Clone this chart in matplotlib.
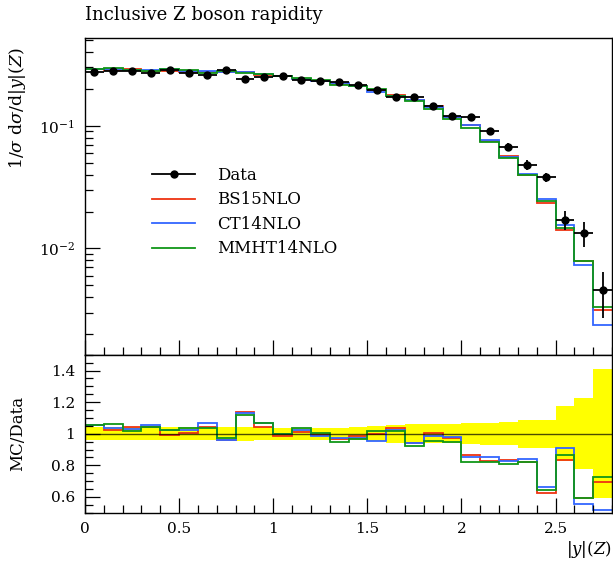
import numpy as np
import matplotlib
matplotlib.use("Agg")
from matplotlib import pyplot as plt
from matplotlib.lines import Line2D
from matplotlib.ticker import MultipleLocator, LogLocator, NullFormatter, FixedLocator

plt.rcParams['font.family'] = ['DejaVu Serif']
plt.rcParams['mathtext.fontset'] = 'dejavuserif'

# bin edges in |y|(Z)
edges = np.round(np.arange(0, 2.81, 0.1), 2)
centers = 0.5 * (edges[:-1] + edges[1:])

# measured 1/sigma dsigma/d|y|
data = [0.276, 0.280, 0.280, 0.269, 0.283, 0.272, 0.262, 0.286, 0.241, 0.248,
        0.257, 0.2375, 0.234, 0.2286, 0.216, 0.197, 0.1714, 0.1714, 0.1438, 0.1207,
        0.1178, 0.0905, 0.0678, 0.0481, 0.0379, 0.0171, 0.0133, 0.00458]
# relative uncertainty of the data (yellow band)
data_relerr = [0.043, 0.043, 0.042, 0.042, 0.04, 0.04, 0.041, 0.041, 0.044, 0.04,
               0.039, 0.038, 0.038, 0.037, 0.042, 0.048, 0.057, 0.059, 0.062, 0.062,
               0.068, 0.070, 0.073, 0.088, 0.088, 0.173, 0.226, 0.41]

# MC / Data ratios
ratio_bs15 = [1.056, 1.022, 1.043, 1.043, 0.99, 1.007, 1.045, 0.962, 1.138, 1.045,
              0.986, 1.011, 0.99, 0.965, 0.986, 1.0, 1.037, 0.942, 1.005, 0.975,
              0.863, 0.829, 0.833, 0.822, 0.622, 0.833, 0.595, 0.692]
ratio_ct14 = [1.056, 1.036, 1.027, 1.056, 1.024, 1.026, 1.069, 0.96, 1.13, 1.068,
              1.0, 1.022, 0.983, 0.974, 0.975, 0.955, 1.026, 0.942, 0.983, 0.98,
              0.854, 0.854, 0.828, 0.843, 0.664, 0.907, 0.553, 0.517]
ratio_mmht14 = [1.058, 1.061, 1.017, 1.043, 1.024, 1.039, 1.034, 0.975, 1.12, 1.07,
                1.0, 1.033, 1.004, 0.948, 0.969, 1.016, 1.018, 0.923, 0.955, 0.948,
                0.822, 0.822, 0.808, 0.822, 0.643, 0.863, 0.595, 0.728]

mc_names = ['BS15NLO', 'CT14NLO', 'MMHT14NLO']
mc_colors = ['#EE3311', '#3366FF', '#109618']
mc_ratios = [ratio_bs15, ratio_ct14, ratio_mmht14]

data = np.array(data)
data_err = data * np.array(data_relerr)

fig = plt.figure(figsize=(6.13, 5.62), dpi=100)
ax = fig.add_axes([85/613, 1-354.7/562, 527/613, (354.7-38)/562])
rax = fig.add_axes([85/613, 1-512.7/562, 527/613, (512.7-354.7)/562], sharex=ax)

# main panel
for name, col, r in zip(mc_names, mc_colors, mc_ratios):
    ax.stairs(np.array(r) * data, edges, baseline=None, color=col, lw=1.3, label=name)
ax.errorbar(centers, data, xerr=0.05, yerr=data_err, fmt='o', color='black',
            ms=5, lw=1.3, capsize=0, zorder=5)

ax.set_yscale('log')
ax.set_ylim(0.00136, 0.52)
ax.set_xlim(0, 2.8)

handles = [Line2D([], [], color='black', marker='o', ms=5, lw=1.3)]
handles += [Line2D([], [], color=c, lw=1.3) for c in mc_colors]
leg = ax.legend(handles, ['Data'] + mc_names, loc='upper left',
                bbox_to_anchor=(0.127, 0.593), frameon=False, fontsize=12,
                handlelength=2.6, handletextpad=1.3, labelspacing=0.45,
                borderpad=0, borderaxespad=0)

# ratio panel
rax.stairs(1 + np.array(data_relerr), edges, baseline=1 - np.array(data_relerr),
           fill=True, color='#FFFF00', lw=0)
rax.axhline(1, color='black', lw=1, alpha=0.7)
for name, col, r in zip(mc_names, mc_colors, mc_ratios):
    rax.stairs(r, edges, baseline=None, color=col, lw=1.3)
rax.set_ylim(0.5, 1.5)
rax.set_xlim(0, 2.8)

for a in (ax, rax):
    a.tick_params(which='both', direction='in', top=False, right=False, labelsize=11)
    a.tick_params(which='major', length=11, width=0.9, pad=7)
    a.tick_params(which='minor', length=5.5, width=0.9)
    a.xaxis.set_major_locator(MultipleLocator(0.5))
    a.xaxis.set_minor_locator(MultipleLocator(0.1))
    for s in a.spines.values():
        s.set_linewidth(1.0)

ax.tick_params(labelbottom=False)
ax.yaxis.set_major_locator(LogLocator(base=10, numticks=10))
ax.yaxis.set_minor_locator(LogLocator(base=10, subs=np.arange(2, 10), numticks=20))
ax.yaxis.set_minor_formatter(NullFormatter())

rax.yaxis.set_major_locator(FixedLocator([0.6, 0.8, 1.0, 1.2, 1.4]))
rax.yaxis.set_minor_locator(MultipleLocator(0.05))
rax.set_yticklabels(['0.6', '0.8', '1', '1.2', '1.4'])
rax.set_xticks([0, 0.5, 1, 1.5, 2, 2.5])
rax.set_xticklabels(['0', '0.5', '1', '1.5', '2', '2.5'])

fig.text(85/613, 1-15/562, 'Inclusive Z boson rapidity', ha='left', va='center', fontsize=13)
fig.text(18/613, 1-47/562, r'$1/\sigma\ \mathrm{d}\sigma/\mathrm{d}|y|(Z)$',
         rotation=90, ha='center', va='top', fontsize=12.5)
fig.text(18/613, 1-433/562, 'MC/Data', rotation=90, ha='center', va='center', fontsize=12)
fig.text(612/613, 1-550/562, r'$|y|(Z)$', ha='right', va='center', fontsize=12)

fig.savefig('out.png', dpi=100)
